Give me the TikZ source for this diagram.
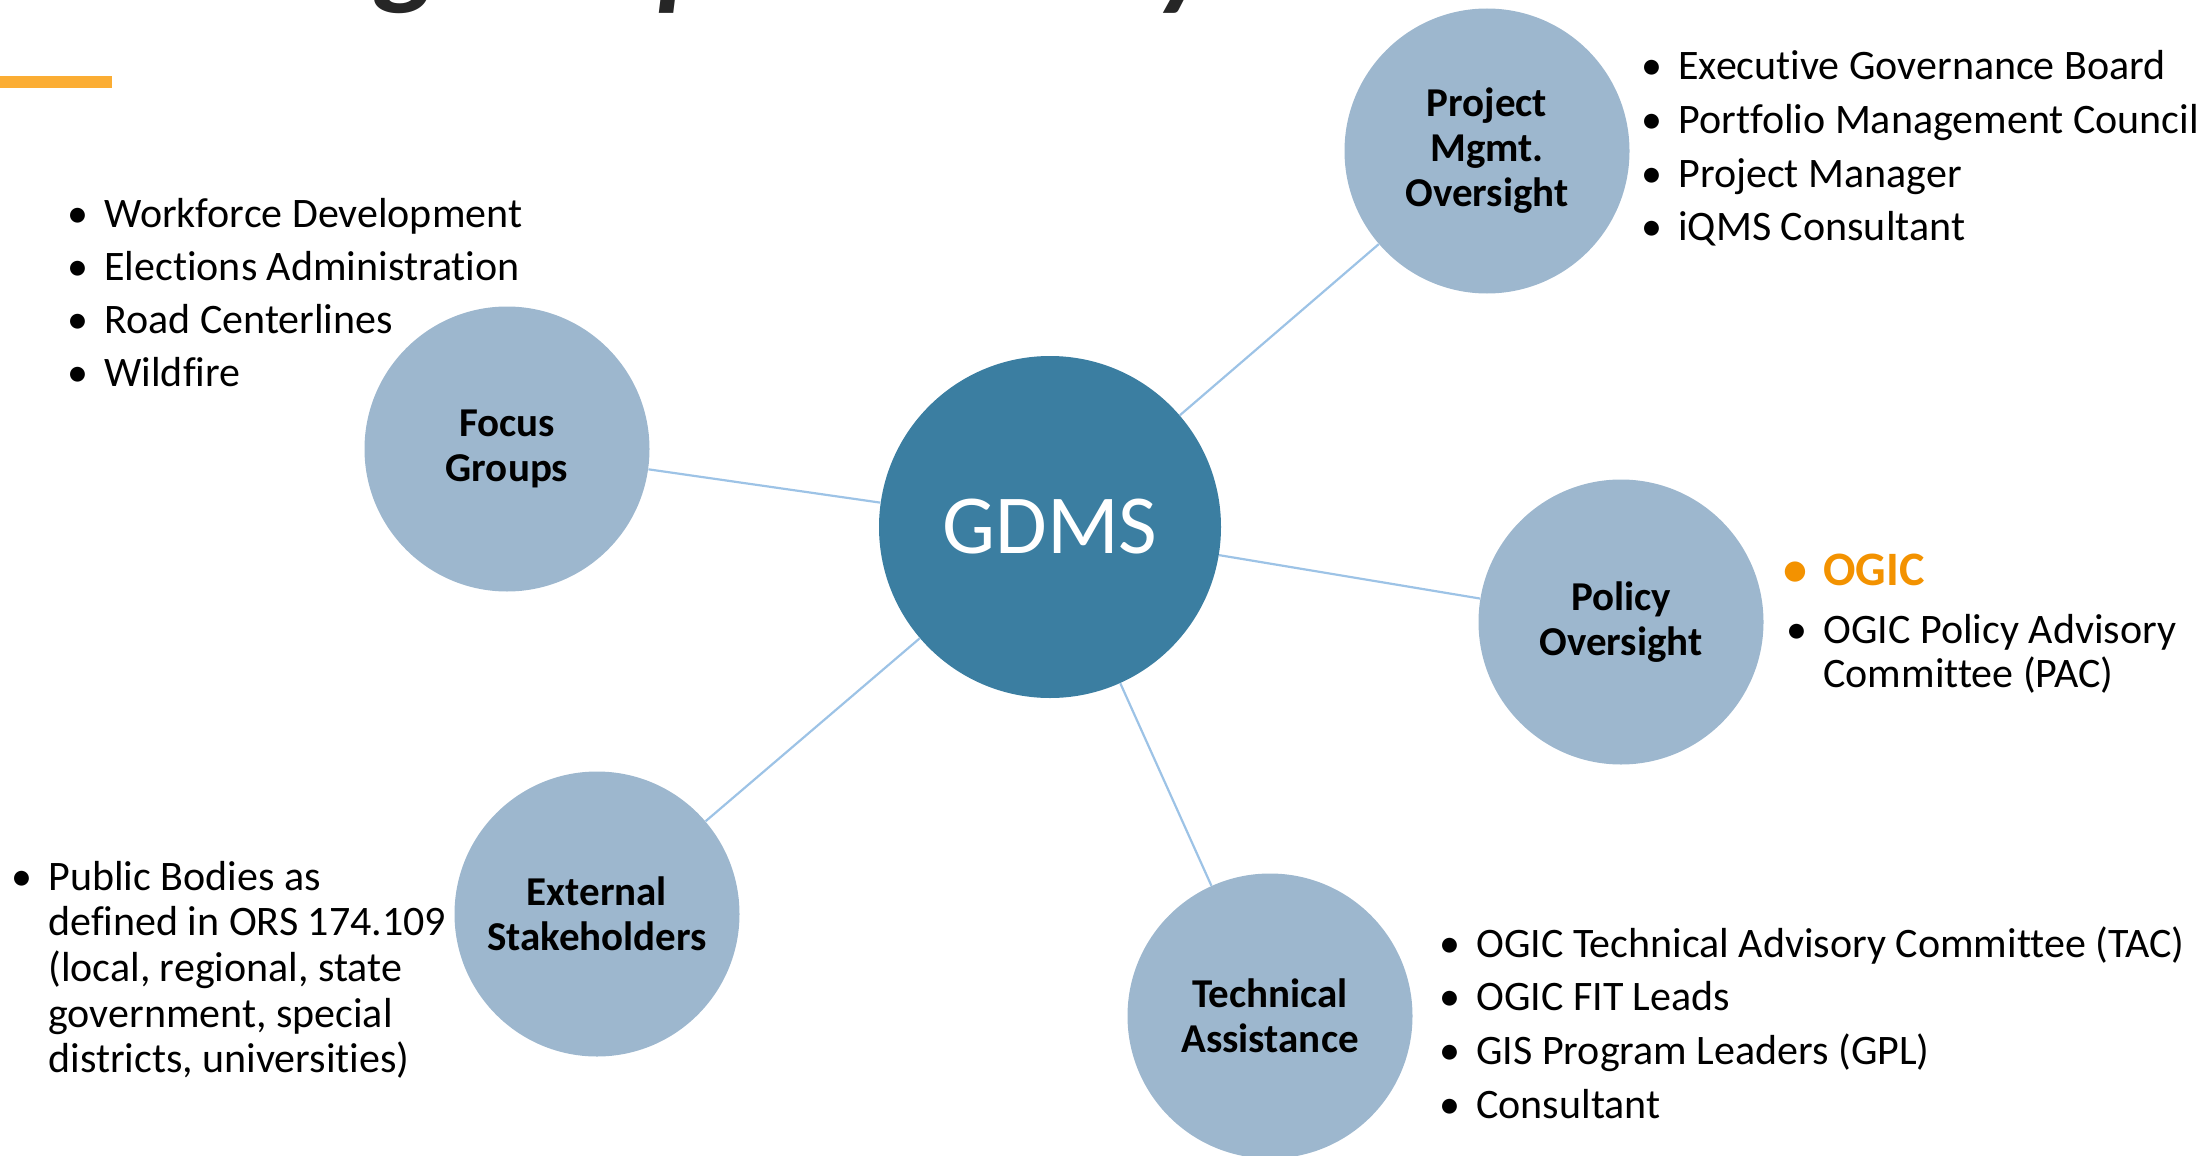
\documentclass[tikz,border=0pt]{standalone}
\usepackage{fontspec}
\setmainfont{Carlito}[Ligatures=NoCommon]
\definecolor{hubblue}{RGB}{59,126,161}
\definecolor{satblue}{RGB}{157,183,206}
\definecolor{spokeblue}{RGB}{157,195,230}
\definecolor{ogicorange}{RGB}{243,146,0}
\definecolor{baryellow}{RGB}{251,173,51}
\definecolor{titlegray}{RGB}{38,38,38}
\tikzstyle{hub} = [circle, fill=hubblue, text=white, inner sep=0pt, minimum size=171pt, font=\fontsize{42}{50}\selectfont]
\tikzstyle{sat} = [circle, fill=satblue, text=black, align=center, inner sep=0pt, minimum size=142.5pt, font=\bfseries\fontsize{20.5}{22.5}\selectfont]

\begin{document}
\begin{tikzpicture}[
  x=0.5pt, y=-0.5pt,
  spoke/.style={draw=spokeblue, line width=1.1pt},
  item/.style={anchor=base west, inner sep=0pt, font=\fontsize{21}{25}\selectfont,
    execute at begin node={\llap{\textbullet\hspace{8pt}}}},
  cont/.style={anchor=base west, inner sep=0pt, font=\fontsize{21}{25}\selectfont},
  ttl/.style={anchor=south, inner sep=0pt, text=titlegray, font=\bfseries\itshape\fontsize{60}{70}\selectfont}]
  \useasboundingbox (0,0) rectangle (2211,1156);
  % cut-off title and accent bar
  \begin{scope}
    \clip (0,0) rectangle (2211,1156);
    \foreach \g/\x in {g/408, p/690, y/1186}
      \node[ttl] (t\g) at (\x,14) {\g};
  \end{scope}
  \fill[baryellow] (0,76) rectangle (112,88);
  % draw hub and satellite circles
  \node[hub] (gdms) at (1050,527) {GDMS};
  \node[sat] (pmo) at (1487,151) {Project\\Mgmt.\\Oversight};
  \node[sat] (focus) at (507,449) {Focus\\Groups};
  \node[sat] (policy) at (1621,622) {Policy\\Oversight};
  \node[sat] (ext) at (597,914) {External\\Stakeholders};
  \node[sat] (tech) at (1270,1016) {Technical\\Assistance};
  % draw spokes
  \foreach \n in {pmo,focus,policy,ext,tech}
    \draw[spoke] (gdms) -- (\n);
  % project management list
  \foreach \txt [count=\k from 0] in {Executive Governance Board,Portfolio Management Council,Project Manager,iQMS Consultant}
    \node[item] (pm\k) at (1678,{80+53.6*\k}) {\txt};
  % focus group list
  \foreach \txt [count=\k from 0] in {Workforce Development,Elections Administration,Road Centerlines,Wildfire}
    \node[item] (fg\k) at (104,{227+53*\k}) {\txt};
  % policy list
  \node[item, text=ogicorange, font=\bfseries\fontsize{24}{28}\selectfont] (po0) at (1823,585) {OGIC};
  \node[item] (po1) at (1823,643) {OGIC Policy Advisory};
  \node[cont] (po1b) at (1823,687) {Committee (PAC)};
  % external stakeholders list
  \node[item] (ex0) at (48,890) {Public Bodies as};
  \foreach \txt [count=\k from 1] in {defined in ORS 174.109,{(local, regional, state},{government, special},{districts, universities)}}
    \node[cont] (ex\k) at (48,{890+45.7*\k}) {\txt};
  % technical assistance list
  \foreach \txt [count=\k from 0] in {OGIC Technical Advisory Committee (TAC),OGIC FIT Leads,GIS Program Leaders (GPL),Consultant}
    \node[item] (ta\k) at (1476,{957+53.7*\k}) {\txt};
\end{tikzpicture}
\end{document}
